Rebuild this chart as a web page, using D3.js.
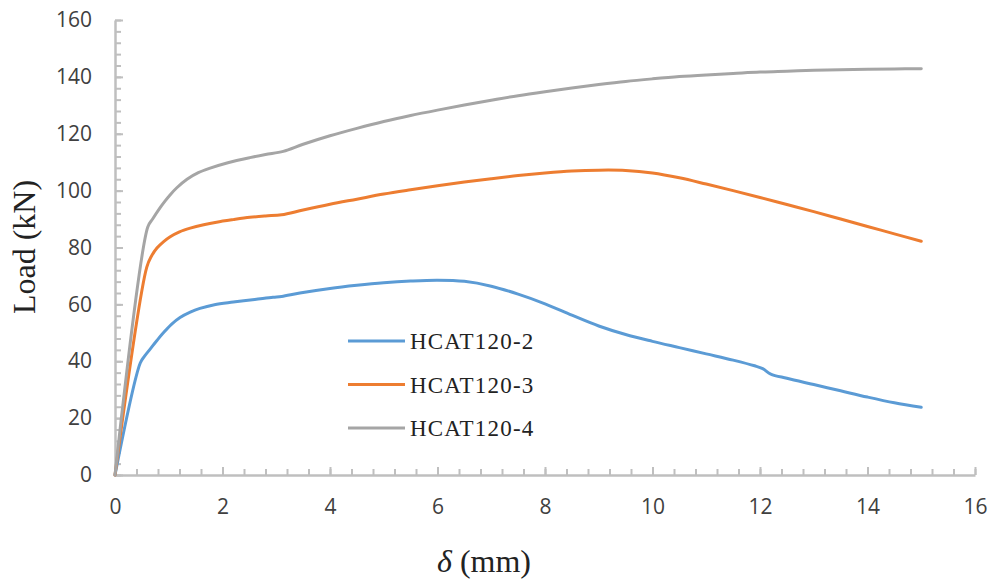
<!DOCTYPE html>
<html>
<head>
<meta charset="utf-8">
<script src="https://cdn.jsdelivr.net/npm/d3@7"></script>
<style>
  body { margin: 0; background: #fff; }
  .tick text { font-family: "Open Sans", "Lato", sans-serif; font-size: 21px; fill: #404040; }
</style>
</head>
<body>
<svg id="chart" width="995" height="581"></svg>
<script>
// data: deflection (mm) vs load (kN)
var seriesNames = ["HCAT120-2", "HCAT120-3", "HCAT120-4"];
var seriesColors = ["#5b9bd5", "#ed7d31", "#a5a5a5"];

var delta2 = [0, 0.47, 0.55, 0.65, 0.78, 0.9, 1.05, 1.21, 1.4, 1.58, 1.85, 2.2, 2.6, 2.94, 3.1, 3.44, 4, 4.5, 5, 5.5, 6, 6.5, 7, 7.5, 8, 8.5, 9, 9.5, 10, 10.5, 11, 11.5, 11.9, 12.05, 12.2, 12.5, 13, 13.5, 14, 14.5, 15];
var load2  = [0, 39.4, 41.8, 44.2, 47.3, 50, 53, 55.4, 57.3, 58.6, 59.9, 60.8, 61.7, 62.5, 62.8, 64, 65.6, 66.7, 67.6, 68.2, 68.5, 68.1, 66.4, 63.6, 60.2, 56.2, 52.4, 49.4, 47, 44.8, 42.6, 40.4, 38.4, 37.4, 35.5, 34, 31.8, 29.6, 27.4, 25.4, 23.8];

var delta3 = [0, 0.59, 0.68, 0.78, 0.9, 1.02, 1.2, 1.4, 1.65, 1.89, 2.2, 2.51, 2.8, 3.1, 3.5, 4, 4.5, 5, 5.5, 6, 6.5, 7, 7.5, 8, 8.5, 9, 9.5, 10, 10.5, 11, 11.5, 12, 12.5, 13, 13.5, 14, 14.5, 15];
var load3  = [0, 73, 77, 79.8, 82, 83.7, 85.5, 86.8, 88, 88.9, 89.8, 90.6, 91.1, 91.5, 93.2, 95.2, 97, 98.8, 100.3, 101.7, 103, 104.2, 105.3, 106.2, 106.9, 107.2, 107.1, 106.2, 104.5, 102.3, 100, 97.6, 95.1, 92.6, 90, 87.4, 84.8, 82.2];

var delta4 = [0, 0.61, 0.7, 0.84, 0.93, 1.02, 1.15, 1.34, 1.55, 1.77, 2.1, 2.51, 2.8, 3.13, 3.5, 4, 4.5, 5, 5.5, 6, 6.5, 7, 7.5, 8, 8.5, 9, 9.5, 10, 10.5, 11, 11.5, 12, 12.5, 13, 13.5, 14, 14.5, 15];
var load4  = [0, 87.2, 90, 94, 96.3, 98.4, 101, 104, 106.3, 107.9, 109.8, 111.6, 112.7, 113.8, 116.3, 119.3, 121.9, 124.3, 126.4, 128.3, 130.1, 131.8, 133.4, 134.8, 136.1, 137.3, 138.4, 139.3, 140.1, 140.7, 141.2, 141.7, 142, 142.3, 142.5, 142.7, 142.8, 142.9];

var xMajor = [0, 2, 4, 6, 8, 10, 12, 14, 16];
var yMajor = [0, 20, 40, 60, 80, 100, 120, 140, 160];

var svg = d3.select("#chart");
var x = d3.scaleLinear().domain([0, 16]).range([115, 975]);
var y = d3.scaleLinear().domain([0, 160]).range([475, 20]);
var axisColor = "#bfbfbf";
var serif = "'Liberation Serif', 'Times New Roman', serif";

// minor ticks
svg.append("g")
  .attr("transform", "translate(0,475)")
  .call(d3.axisBottom(x).tickValues(d3.range(0, 16.01, 0.4)).tickSize(-6).tickSizeOuter(0).tickFormat(""))
  .call(g => g.selectAll("line").attr("stroke", axisColor).attr("stroke-width", 2))
  .call(g => g.select(".domain").remove());
svg.append("g")
  .attr("transform", "translate(115,0)")
  .call(d3.axisLeft(y).tickValues(d3.range(0, 160.01, 4)).tickSize(-6).tickSizeOuter(0).tickFormat(""))
  .call(g => g.selectAll("line").attr("stroke", axisColor).attr("stroke-width", 2))
  .call(g => g.select(".domain").remove());

// major ticks + labels
var xAxis = svg.append("g")
  .attr("transform", "translate(0,475)")
  .call(d3.axisBottom(x).tickValues(xMajor).tickSize(-8).tickSizeOuter(0).tickPadding(24));
xAxis.selectAll("line").attr("stroke", axisColor).attr("stroke-width", 2);
xAxis.select(".domain").attr("stroke", axisColor).attr("stroke-width", 2.5);

var yAxis = svg.append("g")
  .attr("transform", "translate(115,0)")
  .call(d3.axisLeft(y).tickValues(yMajor).tickSize(-8).tickSizeOuter(0).tickPadding(23));
yAxis.selectAll("line").attr("stroke", axisColor).attr("stroke-width", 2);
yAxis.select(".domain").attr("stroke", axisColor).attr("stroke-width", 2.5);

// curves
var line = d3.line().x(d => x(d[0])).y(d => y(d[1])).curve(d3.curveCatmullRom.alpha(0.5));
var series = [d3.zip(delta2, load2), d3.zip(delta3, load3), d3.zip(delta4, load4)];
series.forEach((pts, i) => {
  svg.append("path")
    .datum(pts)
    .attr("d", line)
    .attr("fill", "none")
    .attr("stroke", seriesColors[i])
    .attr("stroke-width", 3)
    .attr("stroke-linejoin", "round")
    .attr("stroke-linecap", "round");
});

// legend
seriesNames.forEach((name, i) => {
  var ly = 341 + i * 43.5;
  svg.append("line")
    .attr("x1", 348).attr("x2", 405).attr("y1", ly).attr("y2", ly)
    .attr("stroke", seriesColors[i]).attr("stroke-width", 3);
  svg.append("text")
    .attr("x", 410).attr("y", ly + 8)
    .style("font-family", serif)
    .style("font-size", "23px")
    .style("letter-spacing", "1.2px")
    .attr("fill", "#222")
    .text(name);
});

// axis titles
svg.append("text")
  .attr("transform", "translate(35,247) rotate(-90)")
  .attr("text-anchor", "middle")
  .style("font-family", serif)
  .style("font-size", "32px")
  .attr("fill", "#222")
  .text("Load (kN)");

var xt = svg.append("text")
  .attr("x", 484).attr("y", 572)
  .attr("text-anchor", "middle")
  .style("font-family", serif)
  .style("font-size", "32px")
  .attr("fill", "#222");
xt.append("tspan").style("font-style", "italic").text("δ");
xt.append("tspan").text(" (mm)");
</script>
</body>
</html>
